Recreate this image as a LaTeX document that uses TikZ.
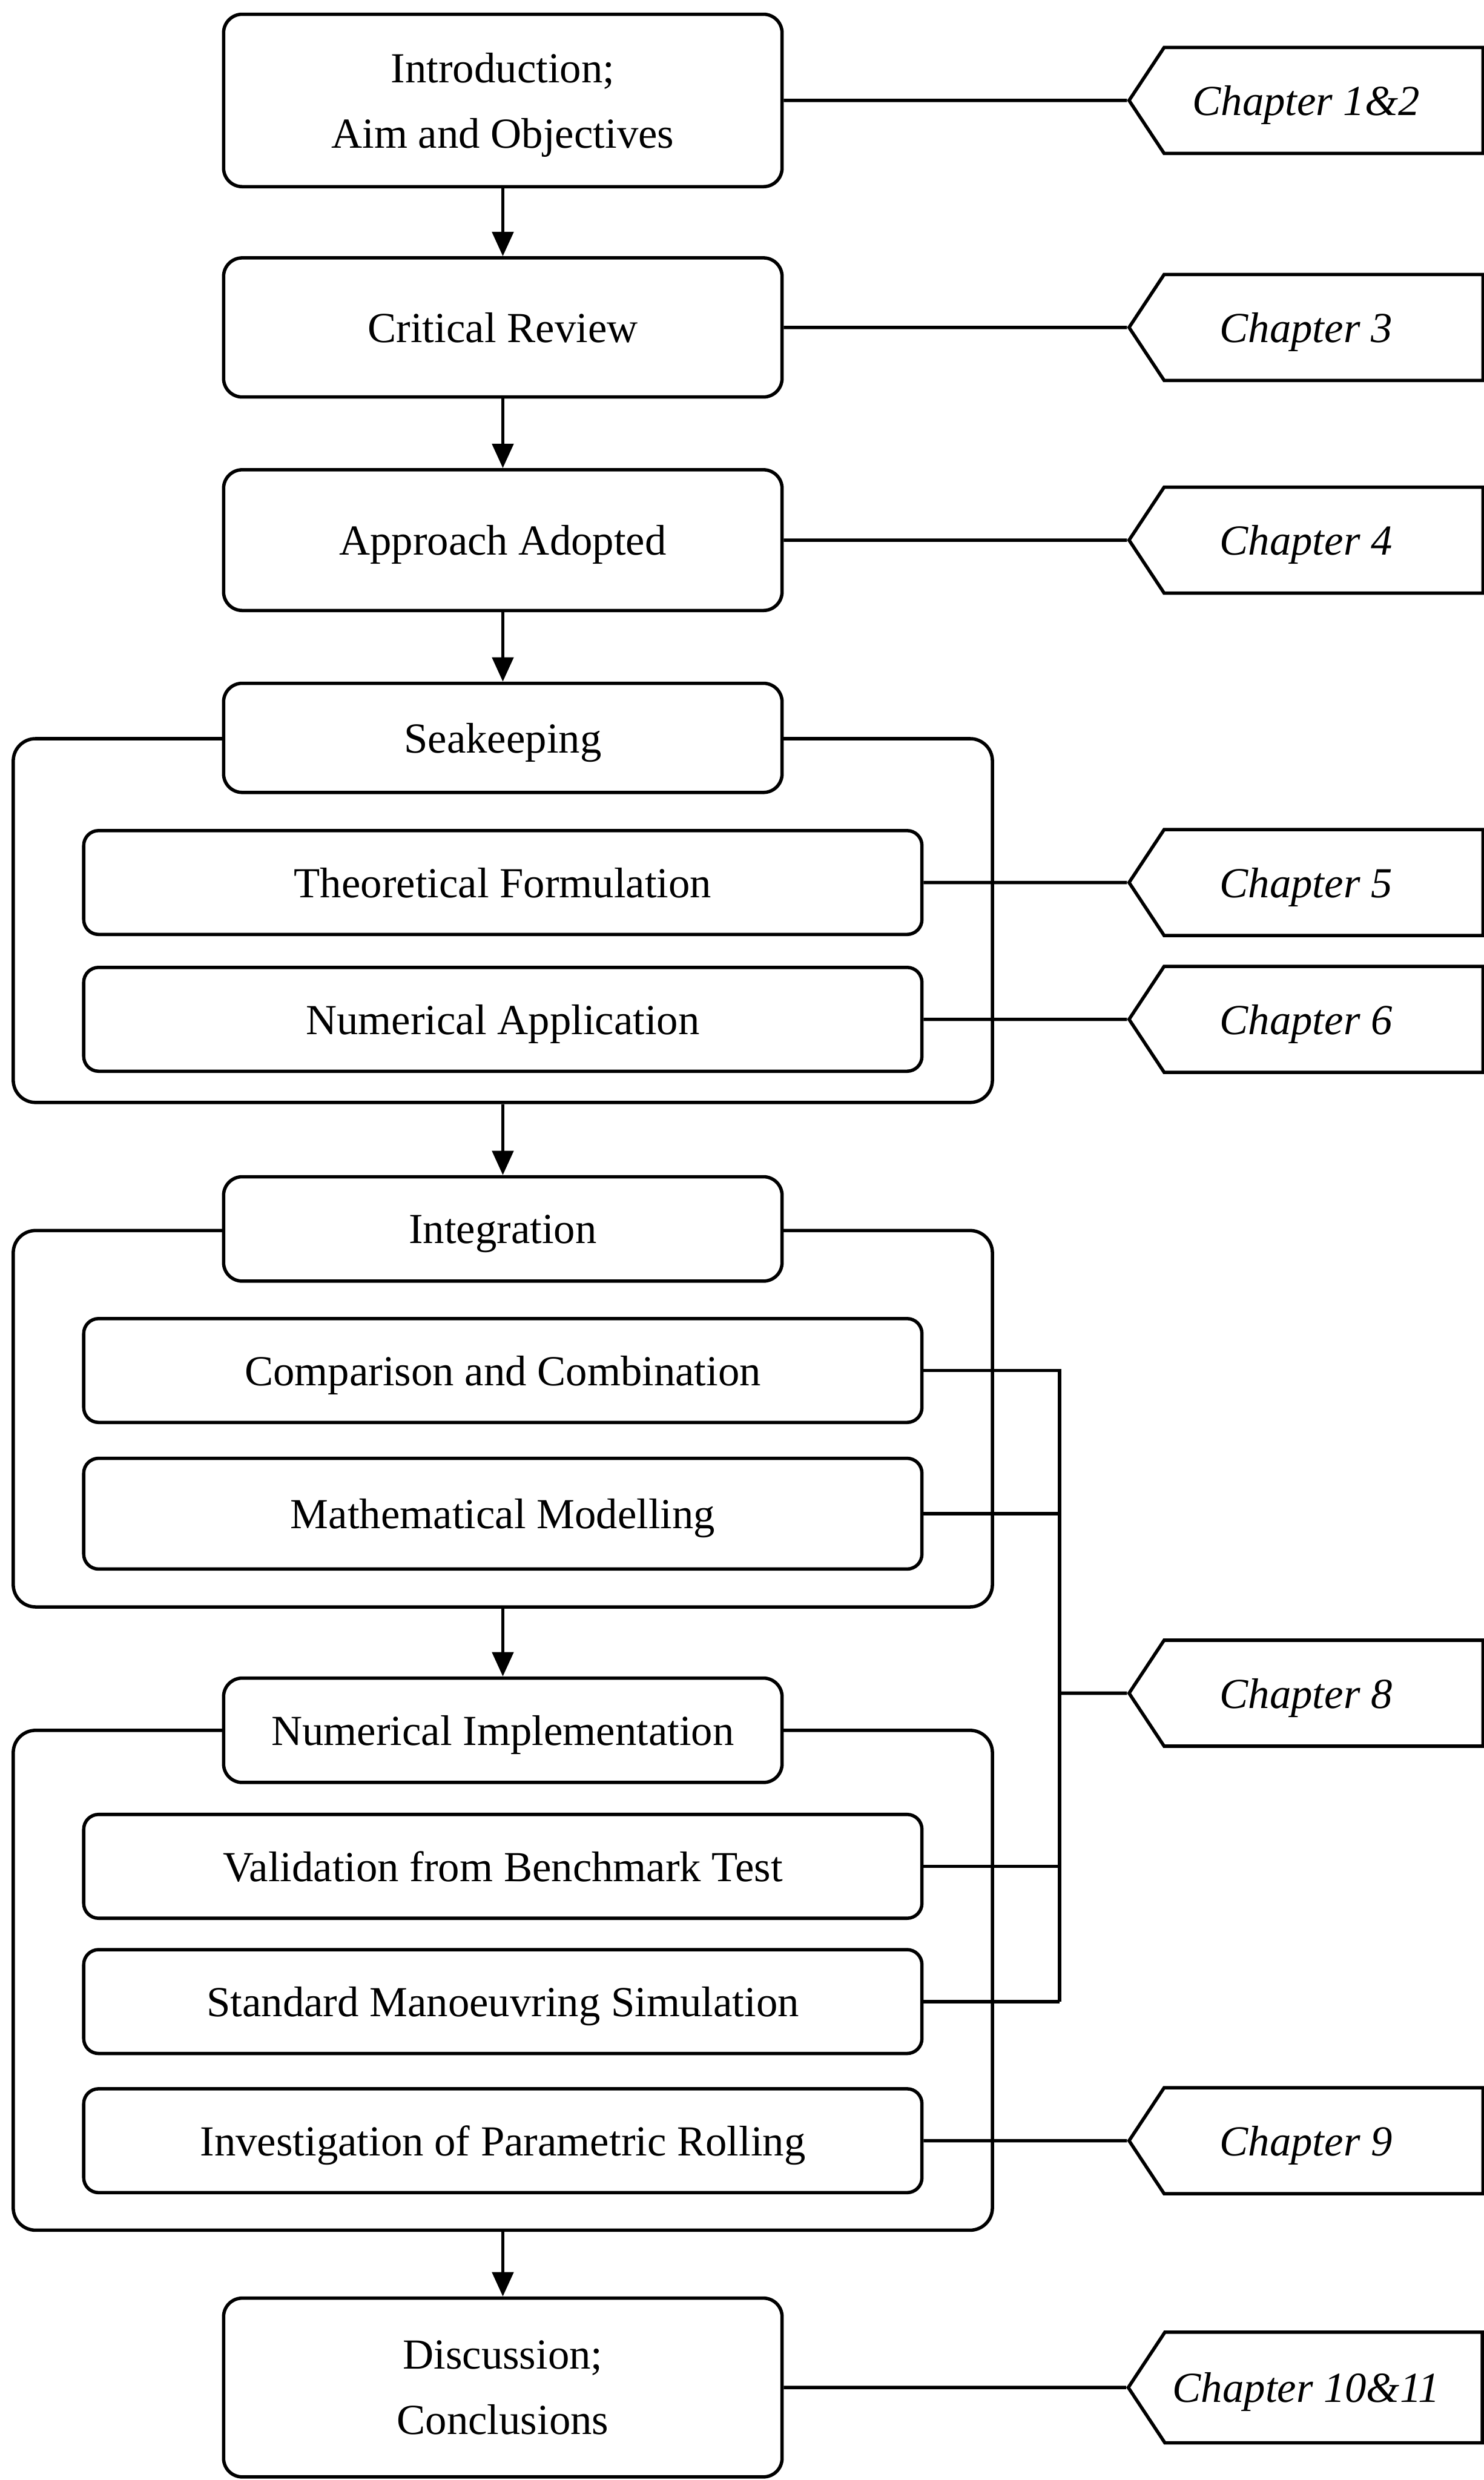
\documentclass[tikz,border=0pt]{standalone}
\usepackage{fontspec}
\setmainfont{Liberation Serif}
\usetikzlibrary{shapes.symbols,arrows.meta,positioning}

\newcommand{\boxfont}{\fontsize{11.5}{17.5}\selectfont}

\begin{document}
\begin{tikzpicture}

\tikzset{mainbox/.style = {draw, fill=white, line width=0.9pt, rounded corners=5pt, minimum width=5.27cm, align=center, text depth=0pt, font=\boxfont}}
\tikzset{subbox/.style = {draw, fill=white, line width=0.9pt, rounded corners=4pt, minimum width=7.91cm, minimum height=0.98cm, text depth=0pt, font=\boxfont}}
\tikzset{grpbox/.style = {draw, line width=0.9pt, rounded corners=6pt, minimum width=9.24cm}}
\tikzset{chaptag/.style = {draw, line width=0.9pt, signal, signal to=west, signal pointer angle=113, minimum width=3.34cm, minimum height=1cm, text depth=0pt, font=\boxfont\itshape, execute at begin node=\hspace*{-3.3mm}}}
\tikzset{flowedge/.style = {-{Triangle[length=2.3mm,width=2mm]}, line width=0.9pt}}
\tikzset{tagedge/.style = {line width=0.9pt}}

\useasboundingbox (0,0) rectangle (14,-23.403);

% groups
\node[grpbox, minimum height=3.433cm] (seakgrp) at (4.745,-8.687) {};
\node[grpbox, minimum height=3.552cm] (integgrp) at (4.745,-13.388) {};
\node[grpbox, minimum height=4.717cm] (implgrp) at (4.745,-18.687) {};

% main boxes
\node[mainbox, minimum height=1.627cm] (intro) at (4.745,-0.948) {Introduction;\\Aim and Objectives};
\node[mainbox, minimum height=1.313cm] (critical) at (4.745,-3.09) {Critical Review};
\node[mainbox, minimum height=1.328cm] (approach) at (4.745,-5.097) {Approach Adopted};
\node[mainbox, minimum height=1.03cm] (seakeeping) at (4.745,-6.963) {Seakeeping};
\node[mainbox, minimum height=0.985cm] (integration) at (4.745,-11.597) {Integration};
\node[mainbox, minimum height=0.985cm] (numimpl) at (4.745,-16.328) {Numerical Implementation};
\node[mainbox, minimum height=1.687cm] (discussion) at (4.745,-22.53) {Discussion;\\Conclusions};

% sub boxes
\node[subbox] (theo) at (4.745,-8.328) {Theoretical Formulation};
\node[subbox] (numapp) at (4.745,-9.619) {Numerical Application};
\node[subbox] (comp) at (4.745,-12.933) {Comparison and Combination};
\node[subbox, minimum height=1.045cm] (math) at (4.745,-14.284) {Mathematical Modelling};
\node[subbox] (valid) at (4.745,-17.612) {Validation from Benchmark Test};
\node[subbox] (stdman) at (4.745,-18.888) {Standard Manoeuvring Simulation};
\node[subbox] (invest) at (4.745,-20.201) {Investigation of Parametric Rolling};

% chapter tags
\node[chaptag] (ch12) at (12.49,-0.948) {Chapter 1\&2};
\node[chaptag] (ch3) at (12.49,-3.09) {Chapter 3};
\node[chaptag] (ch4) at (12.49,-5.097) {Chapter 4};
\node[chaptag] (ch5) at (12.49,-8.328) {Chapter 5};
\node[chaptag] (ch6) at (12.49,-9.619) {Chapter 6};
\node[chaptag] (ch8) at (12.49,-15.978) {Chapter 8};
\node[chaptag] (ch9) at (12.49,-20.201) {Chapter 9};
\node[chaptag, minimum height=1.045cm] (ch1011) at (12.49,-22.53) {Chapter 10\&11};
\coordinate (bus) at (10.0,-15.978);

% flow
\draw[flowedge] (intro) -- (critical);
\draw[flowedge] (critical) -- (approach);
\draw[flowedge] (approach) -- (seakeeping);
\draw[flowedge] (seakgrp) -- (integration);
\draw[flowedge] (integgrp) -- (numimpl);
\draw[flowedge] (implgrp) -- (discussion);

% to chapters
\draw[tagedge] (intro) -- (ch12);
\draw[tagedge] (critical) -- (ch3);
\draw[tagedge] (approach) -- (ch4);
\draw[tagedge] (theo) -- (ch5);
\draw[tagedge] (numapp) -- (ch6);
\draw[tagedge] (invest) -- (ch9);
\draw[tagedge] (discussion) -- (ch1011);

% chapter 8 bus
\draw[tagedge] (comp.east) -- (comp.east -| bus) -- (stdman.east -| bus);
\draw[tagedge] (math.east) -- (math.east -| bus);
\draw[tagedge] (valid.east) -- (valid.east -| bus);
\draw[tagedge] (stdman.east) -- (stdman.east -| bus);
\draw[tagedge] (bus) -- (ch8);

\end{tikzpicture}
\end{document}
